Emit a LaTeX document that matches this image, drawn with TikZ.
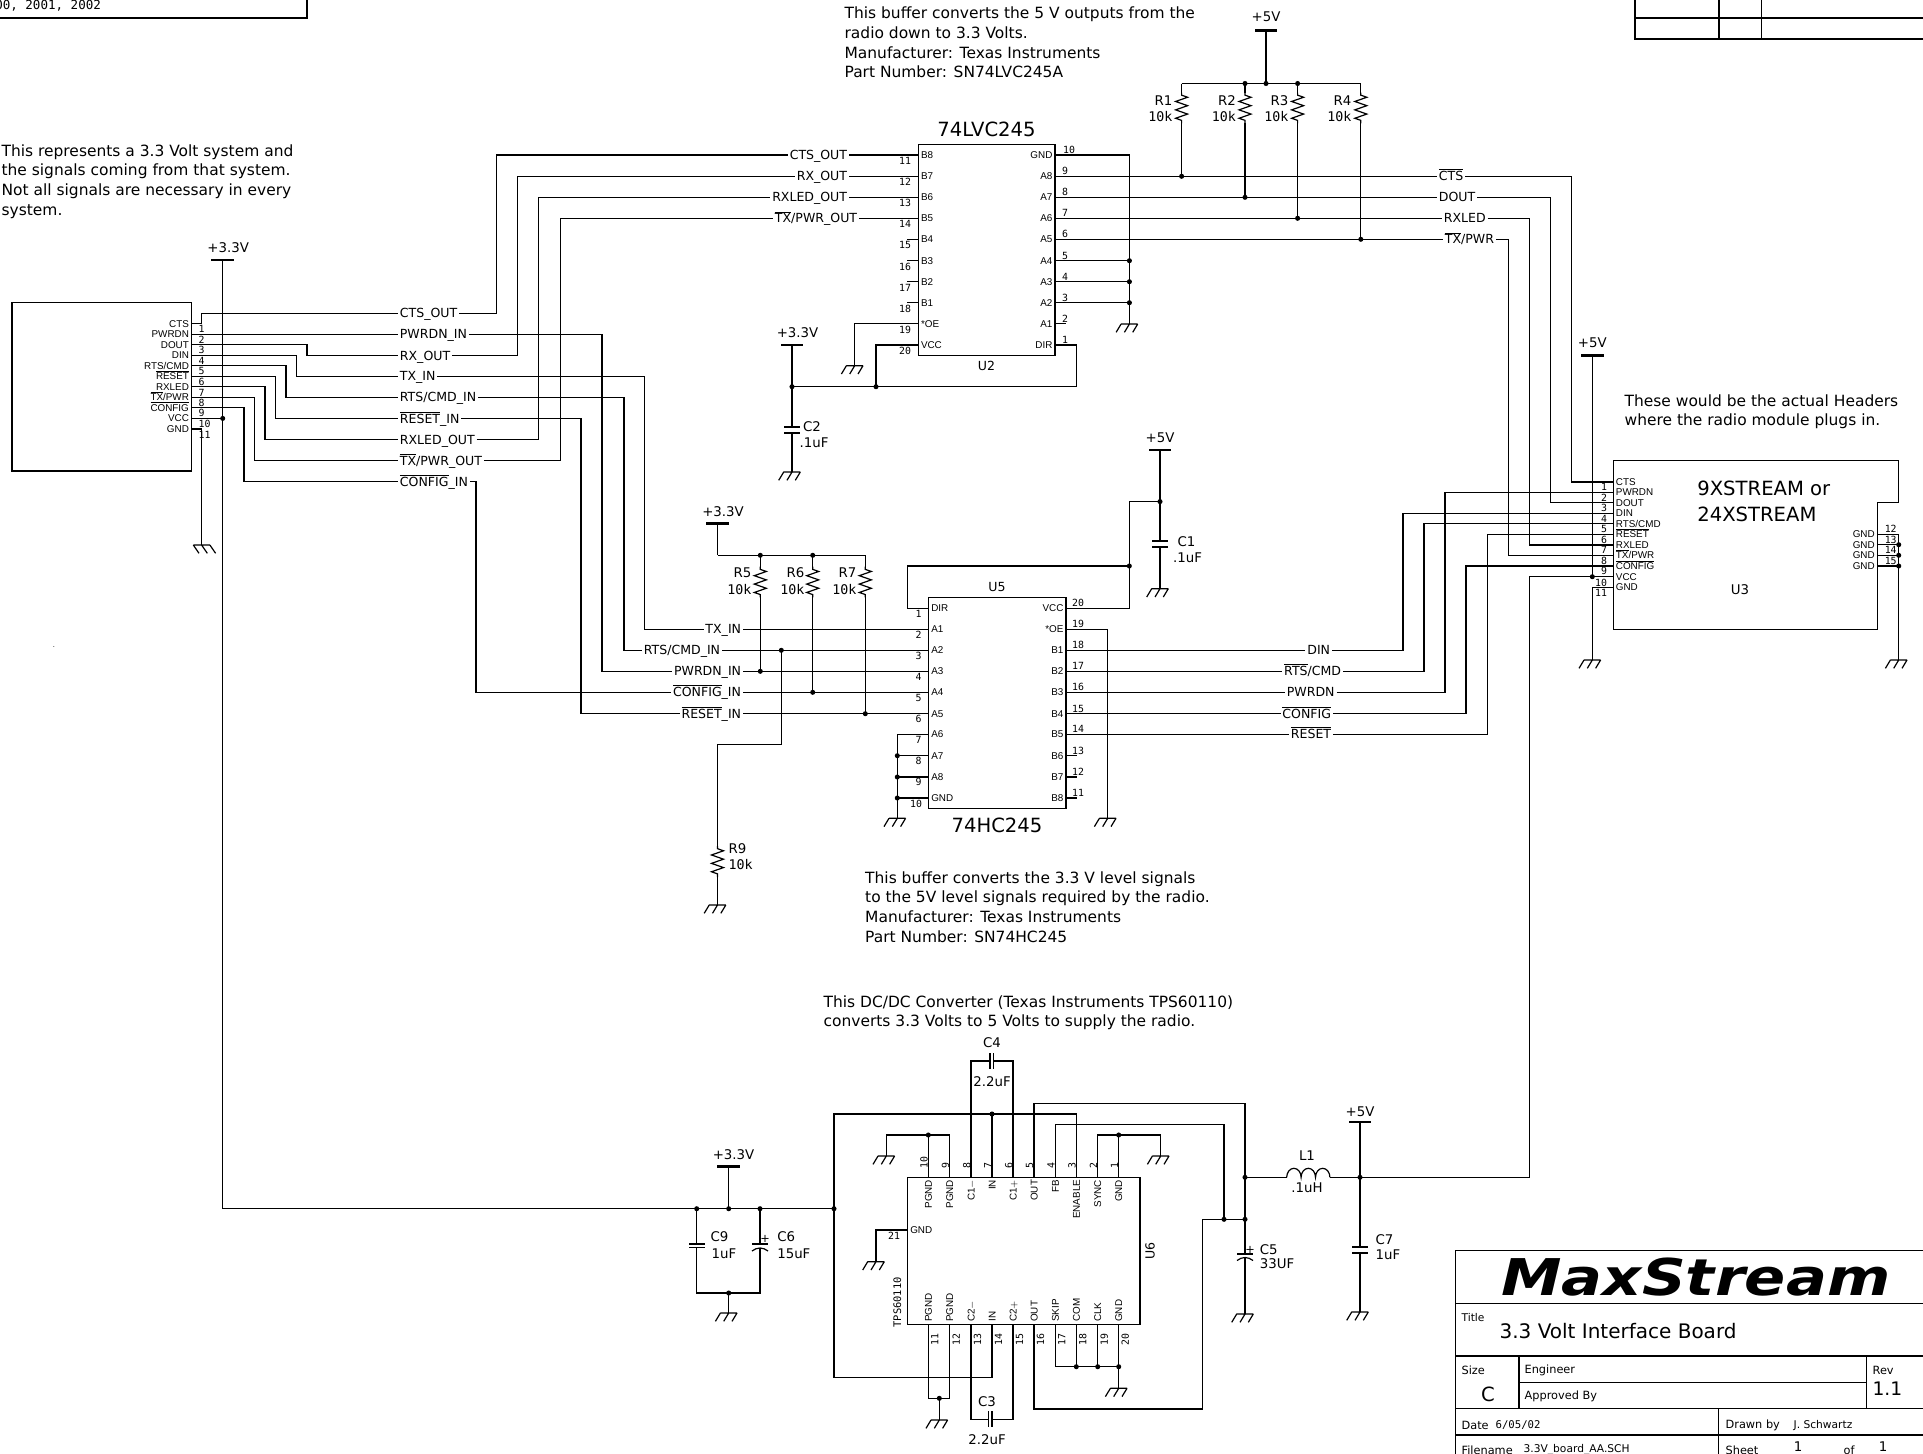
\documentclass[tikz,border=0pt]{standalone}
\usepackage{fontspec}
\setmainfont{DejaVu Sans}
\setmonofont{DejaVu Sans Mono}
\newfontfamily\pinfam{Liberation Sans}
\usetikzlibrary{decorations.pathmorphing}
\newcommand{\notef}{\fontsize{11.6pt}{14.7pt}\selectfont}
\newcommand{\sigf}{\fontsize{9.4pt}{11pt}\selectfont}
\newcommand{\pinf}{\pinfam\fontsize{7.4pt}{8pt}\selectfont}
\newcommand{\numf}{\ttfamily\fontsize{7.4pt}{8pt}\selectfont}
\newcommand{\valf}{\fontsize{10pt}{12pt}\selectfont}
\newcommand{\bigf}{\fontsize{14.7pt}{17pt}\selectfont}
\newcommand{\smf}{\fontsize{8.5pt}{10pt}\selectfont}
\newcommand{\ovl}[1]{$\overline{\mbox{#1}}$}
\tikzstyle{none}=[]
\tikzstyle{dot}=[circle,fill=black,inner sep=0pt,minimum size=3.8pt]
\tikzstyle{bar}=[fill=black,inner sep=0pt,minimum width=17pt,minimum height=2pt]
\tikzstyle{plate}=[fill=black,inner sep=0pt,minimum width=12pt,minimum height=0.9pt]
\tikzstyle{vplate}=[fill=black,inner sep=0pt,minimum width=0.9pt,minimum height=12pt]
\tikzstyle{res}=[decorate,decoration={zigzag,segment length=6.3pt,amplitude=4.5pt,pre length=2pt,post length=2pt}]
\tikzstyle{sig}=[font=\sigf,inner xsep=1pt,inner ysep=0pt,text height=6.9pt,text depth=0pt]
\tikzstyle{sigw}=[style=sig,anchor=west]
\tikzstyle{sige}=[style=sig,anchor=east]
\tikzstyle{pinl}=[font=\pinf,inner xsep=1.5pt,inner ysep=0pt,text height=5.3pt,text depth=0pt,anchor=west]
\tikzstyle{pinr}=[font=\pinf,inner xsep=1.5pt,inner ysep=0pt,text height=5.3pt,text depth=0pt,anchor=east]
\tikzstyle{pint}=[style=pinr,rotate=90]
\tikzstyle{pinb}=[style=pinl,rotate=90]
\tikzstyle{num}=[font=\numf,inner sep=0pt]
\tikzstyle{numt}=[style=num,rotate=90,anchor=west]
\tikzstyle{numb}=[style=num,rotate=90,anchor=east]
\tikzstyle{val}=[font=\valf,inner sep=0pt]
\tikzstyle{mval}=[font=\ttfamily\valf,inner sep=0pt]
\tikzstyle{big}=[font=\bigf,inner sep=0pt]
\tikzstyle{note}=[font=\notef,anchor=north west,align=left,inner sep=0pt]
\tikzstyle{tb}=[font=\smf,anchor=west,inner sep=0pt]
\tikzset{
  gnda/.pic={\draw (-8.3,0) -- (8.3,0) (-8.3,0) -- ++(5.7,8.3) (0,0) -- ++(5.7,8.3) (8.3,0) -- ++(5.7,8.3);},
  gndb/.pic={\draw (-8.3,0) -- (8.3,0) (-8.3,0) -- ++(-5,8.3) (0,0) -- ++(-5,8.3) (8.3,0) -- ++(-5,8.3);},
  polar/.pic={\draw (-8,3.5) .. controls (-3,-0.5) and (3,-0.5) .. (8,3.5);}
}
\begin{document}
\begin{tikzpicture}[x=0.75pt,y=-0.75pt,line width=0.9pt]
  \useasboundingbox (0,0) rectangle (1923,1453);
  \clip (0,0) rectangle (1923,1453);

  % sheet corners
  \draw (0,18) -- (307,18) -- (307,-5);
  \node [font=\ttfamily\fontsize{9.4pt}{11pt}\selectfont,anchor=east,inner sep=0pt] (years) at (101.5,6) {00, 2001, 2002};
  \draw (1635,-5) -- (1635,39) -- (1928,39);
  \draw (1635,18) -- (1928,18);
  \draw (1719,-5) -- (1719,39);
  \draw (1761.3,-5) -- (1761.3,39);
  \node [font=\tiny,inner sep=0pt] (speck) at (54,647) {.};

  % notes
  \node [style=note] (note1) at (1,144) {This represents a 3.3 Volt system and\\the signals coming from that system.\\Not all signals are necessary in every\\system.};
  \node [style=note] (note2) at (844,6.5) {This buffer converts the 5 V outputs from the\\radio down to 3.3 Volts.\\Manufacturer: Texas Instruments\\Part Number: SN74LVC245A};
  \node [style=note] (note3) at (1624,394) {These would be the actual Headers\\where the radio module plugs in.};
  \node [style=note] (note4) at (864.6,871) {This buffer converts the 3.3 V level signals\\to the 5V level signals required by the radio.\\Manufacturer: Texas Instruments\\Part Number: SN74HC245};
  \node [style=note] (note5) at (823,995) {This DC/DC Converter (Texas Instruments TPS60110)\\converts 3.3 Volts to 5 Volts to supply the radio.};

  % host connector
  \draw (12,302.5) rectangle (191.5,471);
  \node [style=pinr] (a1) at (191.5,323.7) {CTS};
  \node [style=pinr] (a2) at (191.5,334.2) {PWRDN};
  \node [style=pinr] (a3) at (191.5,344.7) {DOUT};
  \node [style=pinr] (a4) at (191.5,355.2) {DIN};
  \node [style=pinr] (a5) at (191.5,365.7) {RTS/CMD};
  \node [style=pinr] (a6) at (191.5,376.3) {\ovl{RESET}};
  \node [style=pinr] (a7) at (191.5,386.8) {RXLED};
  \node [style=pinr] (a8) at (191.5,397.3) {\ovl{TX}/PWR};
  \node [style=pinr] (a9) at (191.5,407.8) {\ovl{CONFIG}};
  \node [style=pinr] (a10) at (191.5,418.4) {VCC};
  \node [style=pinr] (a11) at (191.5,428.9) {GND};
  \node [style=num] (an1) at (201.5,329.3) {1};
  \node [style=num] (an2) at (201.5,339.8) {2};
  \node [style=num] (an3) at (201.5,350.3) {3};
  \node [style=num] (an4) at (201.5,360.8) {4};
  \node [style=num] (an5) at (201.5,371.3) {5};
  \node [style=num] (an6) at (201.5,381.9) {6};
  \node [style=num] (an7) at (201.5,392.4) {7};
  \node [style=num] (an8) at (201.5,402.9) {8};
  \node [style=num] (an9) at (201.5,413.4) {9};
  \node [style=num] (an10) at (204.5,424) {10};
  \node [style=num] (an11) at (204.5,434.5) {11};
  \node [style=sigw] (lCTS) at (398,313.3) {CTS\_OUT};
  \node [style=sigw] (lPWR) at (398,334.2) {PWRDN\_IN};
  \node [style=sigw] (lRX) at (398,355.7) {RX\_OUT};
  \node [style=sigw] (lTX) at (398,376.3) {TX\_IN};
  \node [style=sigw] (lRTS) at (398,397.3) {RTS/CMD\_IN};
  \node [style=sigw] (lRES) at (398,418.7) {\ovl{RESET}\_IN};
  \node [style=sigw] (lLED) at (398,439.7) {RXLED\_OUT};
  \node [style=sigw] (lPW) at (398,460.7) {\ovl{TX}/PWR\_OUT};
  \node [style=sigw] (lCFG) at (398,481.7) {\ovl{CONFIG}\_IN};
  \node [style=dot] (dV0) at (222.7,418.4) {};
  \node [style=bar] (v0) at (222.7,260) {};
  \node [style=val] (v0t) at (228.2,248) {+3.3V};
  \node [style=none] (g0) at (201.6,545) {};
  \pic at (g0.center) {gnda};
  \draw (a1.east) -- (201.6,323.7) -- (201.6,313.3) -- (lCTS.west);
  \draw (a2.east) to (lPWR.west);
  \draw (a3.east) -| (307,355.7) -- (lRX.west);
  \draw (a4.east) -| (296.7,376.3) -- (lTX.west);
  \draw (a5.east) -| (286,397.3) -- (lRTS.west);
  \draw (a6.east) -| (275.7,418.7) -- (lRES.west);
  \draw (a7.east) -| (265,439.7) -- (lLED.west);
  \draw (a8.east) -| (254.7,460.7) -- (lPW.west);
  \draw (a9.east) -| (244,481.7) -- (lCFG.west);
  \draw (a10.east) to (dV0.center);
  \draw (a11.east) -| (g0.center);

  % U2
  \draw (918.4,144.3) rectangle (1055,355.3);
  \node [style=big] (u2n) at (986.5,129) {74LVC245};
  \node [style=val,font=\sigf] (u2t) at (986.5,366) {U2};
  \node [style=pinl] (u2p11) at (918.4,155) {B8};
  \node [style=pinl] (u2p12) at (918.4,176.3) {B7};
  \node [style=pinl] (u2p13) at (918.4,197.3) {B6};
  \node [style=pinl] (u2p14) at (918.4,218.3) {B5};
  \node [style=pinl] (u2p15) at (918.4,239.3) {B4};
  \node [style=pinl] (u2p16) at (918.4,260.7) {B3};
  \node [style=pinl] (u2p17) at (918.4,281.7) {B2};
  \node [style=pinl] (u2p18) at (918.4,302.7) {B1};
  \node [style=pinl] (u2p19) at (918.4,323.7) {*OE};
  \node [style=pinl] (u2p20) at (918.4,345) {VCC};
  \node [style=pinr] (u2p10) at (1055,155) {GND};
  \node [style=pinr] (u2p9) at (1055,176.3) {A8};
  \node [style=pinr] (u2p8) at (1055,197.3) {A7};
  \node [style=pinr] (u2p7) at (1055,218.3) {A6};
  \node [style=pinr] (u2p6) at (1055,239.3) {A5};
  \node [style=pinr] (u2p5) at (1055,260.7) {A4};
  \node [style=pinr] (u2p4) at (1055,281.7) {A3};
  \node [style=pinr] (u2p3) at (1055,302.7) {A2};
  \node [style=pinr] (u2p2) at (1055,323.7) {A1};
  \node [style=pinr] (u2p1) at (1055,345) {DIR};
  \node [style=num] (u2m11) at (905,161) {11};
  \node [style=num] (u2m12) at (905,182.3) {12};
  \node [style=num] (u2m13) at (905,203.3) {13};
  \node [style=num] (u2m14) at (905,224.3) {14};
  \node [style=num] (u2m15) at (905,245.3) {15};
  \node [style=num] (u2m16) at (905,266.7) {16};
  \node [style=num] (u2m17) at (905,287.7) {17};
  \node [style=num] (u2m18) at (905,308.7) {18};
  \node [style=num] (u2m19) at (905,329.7) {19};
  \node [style=num] (u2m20) at (905,351) {20};
  \node [style=num] (u2m10) at (1069,150) {10};
  \node [style=num] (u2m9) at (1065,171.3) {9};
  \node [style=num] (u2m8) at (1065,192.3) {8};
  \node [style=num] (u2m7) at (1065,213.3) {7};
  \node [style=num] (u2m6) at (1065,234.3) {6};
  \node [style=num] (u2m5) at (1065,255.7) {5};
  \node [style=num] (u2m4) at (1065,276.7) {4};
  \node [style=num] (u2m3) at (1065,297.7) {3};
  \node [style=num] (u2m2) at (1065,318.7) {2};
  \node [style=num] (u2m1) at (1065,340) {1};
  \node [style=sige] (aCTS) at (849,155) {CTS\_OUT};
  \node [style=sige] (aRX) at (849,176.3) {RX\_OUT};
  \node [style=sige] (aLED) at (849,197.3) {RXLED\_OUT};
  \node [style=sige] (aPW) at (859,218.3) {\ovl{TX}/PWR\_OUT};
  \node [style=sigw] (cCTS) at (1437,176.3) {\ovl{CTS}};
  \node [style=sigw] (cDOUT) at (1437,197.3) {DOUT};
  \node [style=sigw] (cLED) at (1442,218.3) {RXLED};
  \node [style=sigw] (cPW) at (1443,239.3) {\ovl{TX}/PWR};
  \node [style=none] (s15) at (907,239.3) {};
  \node [style=none] (s16) at (907,260.7) {};
  \node [style=none] (s17) at (907,281.7) {};
  \node [style=none] (s18) at (907,302.7) {};
  \node [style=none] (s2) at (1066,323.7) {};
  \node [style=none] (g1) at (854.7,365.7) {};
  \node [style=none] (g2) at (1129.4,324) {};
  \pic at (g1.center) {gndb};
  \pic at (g2.center) {gndb};
  \node [style=dot] (dA5) at (1129.4,260.7) {};
  \node [style=dot] (dA4) at (1129.4,281.7) {};
  \node [style=dot] (dA3) at (1129.4,302.7) {};
  \node [style=dot] (dR1) at (1181.6,176.3) {};
  \node [style=dot] (dR2) at (1245,197.3) {};
  \node [style=dot] (dR3) at (1297.6,218.3) {};
  \node [style=dot] (dR4) at (1360.8,239.3) {};
  \node [style=dot] (dV2) at (792,386.7) {};
  \node [style=dot] (dV3) at (876,386.7) {};
  \node [style=bar] (v1) at (792,345) {};
  \node [style=val] (v1t) at (797.5,333) {+3.3V};
  \node [style=plate] (c2a) at (792,427) {};
  \node [style=plate] (c2b) at (792,433) {};
  \node [style=val] (c2t) at (812,427) {C2};
  \node [style=val] (c2v) at (814,443) {.1uF};
  \node [style=none] (g3) at (792,472) {};
  \pic at (g3.center) {gndb};
  \draw (lCTS.east) -| (496.7,155) -- (aCTS.west);
  \draw (lRX.east) -| (517.5,176.3) -- (aRX.west);
  \draw (lLED.east) -| (538.4,197.3) -- (aLED.west);
  \draw (lPW.east) -| (560.5,218.3) -- (aPW.west);
  \draw (aCTS.east) to (u2p11.west);
  \draw (aRX.east) to (u2p12.west);
  \draw (aLED.east) to (u2p13.west);
  \draw (aPW.east) to (u2p14.west);
  \draw (u2p15.west) to (s15.center);
  \draw (u2p16.west) to (s16.center);
  \draw (u2p17.west) to (s17.center);
  \draw (u2p18.west) to (s18.center);
  \draw (u2p2.east) to (s2.center);
  \draw (u2p19.west) -| (g1.center);
  \draw (u2p20.west) -| (dV3.center);
  \draw (u2p1.east) -- (1076.3,345) -- (1076.3,386.7) -- (dV3.center);
  \draw (dV3.center) to (dV2.center);
  \draw (v1.center) to (dV2.center);
  \draw (dV2.center) to (c2a.center);
  \draw (c2b.center) to (g3.center);
  \draw (u2p10.east) -| (dA5.center);
  \draw (dA5.center) to (dA4.center);
  \draw (dA4.center) to (dA3.center);
  \draw (dA3.center) to (g2.center);
  \draw (u2p5.east) to (dA5.center);
  \draw (u2p4.east) to (dA4.center);
  \draw (u2p3.east) to (dA3.center);
  \draw (u2p9.east) to (cCTS.west);
  \draw (u2p8.east) to (cDOUT.west);
  \draw (u2p7.east) to (cLED.west);
  \draw (u2p6.east) to (cPW.west);

  % pull-ups on the radio side
  \node [style=bar] (v2) at (1266,30.7) {};
  \node [style=val] (v2t) at (1266,17) {+5V};
  \node [style=dot] (dT2) at (1245,83.5) {};
  \node [style=dot] (dT0) at (1266,83.5) {};
  \node [style=dot] (dT3) at (1297.6,83.5) {};
  \node [style=none] (dT1) at (1181.6,83.5) {};
  \node [style=none] (dT4) at (1360.8,83.5) {};
  \node [style=none] (r1a) at (1181.6,92.5) {};
  \node [style=none] (r1b) at (1181.6,123.3) {};
  \node [style=none] (r2a) at (1245,92.5) {};
  \node [style=none] (r2b) at (1245,123.3) {};
  \node [style=none] (r3a) at (1297.6,92.5) {};
  \node [style=none] (r3b) at (1297.6,123.3) {};
  \node [style=none] (r4a) at (1360.8,92.5) {};
  \node [style=none] (r4b) at (1360.8,123.3) {};
  \node [style=val,anchor=east] (r1t) at (1173,100.5) {R1};
  \node [style=mval,anchor=east] (r1v) at (1173,116.5) {10k};
  \node [style=val,anchor=east] (r2t) at (1236.5,100.5) {R2};
  \node [style=mval,anchor=east] (r2v) at (1236.5,116.5) {10k};
  \node [style=val,anchor=east] (r3t) at (1289,100.5) {R3};
  \node [style=mval,anchor=east] (r3v) at (1289,116.5) {10k};
  \node [style=val,anchor=east] (r4t) at (1352,100.5) {R4};
  \node [style=mval,anchor=east] (r4v) at (1352,116.5) {10k};
  \draw (v2.center) to (dT0.center);
  \draw (dT1.center) to (dT4.center);
  \draw (dT1.center) to (r1a.center);
  \draw (dT2.center) to (r2a.center);
  \draw (dT3.center) to (r3a.center);
  \draw (dT4.center) to (r4a.center);
  \draw [style=res] (r1a.center) to (r1b.center);
  \draw [style=res] (r2a.center) to (r2b.center);
  \draw [style=res] (r3a.center) to (r3b.center);
  \draw [style=res] (r4a.center) to (r4b.center);
  \draw (r1b.center) to (dR1.center);
  \draw (r2b.center) to (dR2.center);
  \draw (r3b.center) to (dR3.center);
  \draw (r4b.center) to (dR4.center);

  % U5
  \draw (928.7,597.7) rectangle (1066,808.3);
  \node [style=big] (u5n) at (997,825) {74HC245};
  \node [style=val,font=\sigf] (u5t) at (997,587) {U5};
  \node [style=pinl] (u5p1) at (928.7,608.3) {DIR};
  \node [style=pinl] (u5p2) at (928.7,629.3) {A1};
  \node [style=pinl] (u5p3) at (928.7,650.3) {A2};
  \node [style=pinl] (u5p4) at (928.7,671.3) {A3};
  \node [style=pinl] (u5p5) at (928.7,692.3) {A4};
  \node [style=pinl] (u5p6) at (928.7,713.7) {A5};
  \node [style=pinl] (u5p7) at (928.7,734.3) {A6};
  \node [style=pinl] (u5p8) at (928.7,755.7) {A7};
  \node [style=pinl] (u5p9) at (928.7,777) {A8};
  \node [style=pinl] (u5p10) at (928.7,798) {GND};
  \node [style=pinr] (u5p20) at (1066,608.3) {VCC};
  \node [style=pinr] (u5p19) at (1066,629.3) {*OE};
  \node [style=pinr] (u5p18) at (1066,650.3) {B1};
  \node [style=pinr] (u5p17) at (1066,671.3) {B2};
  \node [style=pinr] (u5p16) at (1066,692.3) {B3};
  \node [style=pinr] (u5p15) at (1066,713.7) {B4};
  \node [style=pinr] (u5p14) at (1066,734.3) {B5};
  \node [style=pinr] (u5p13) at (1066,755.7) {B6};
  \node [style=pinr] (u5p12) at (1066,777) {B7};
  \node [style=pinr] (u5p11) at (1066,798) {B8};
  \node [style=num] (u5m1) at (918.7,613.5) {1};
  \node [style=num] (u5m2) at (918.7,634.5) {2};
  \node [style=num] (u5m3) at (918.7,655.5) {3};
  \node [style=num] (u5m4) at (918.7,676.5) {4};
  \node [style=num] (u5m5) at (918.7,697.5) {5};
  \node [style=num] (u5m6) at (918.7,719) {6};
  \node [style=num] (u5m7) at (918.7,739.5) {7};
  \node [style=num] (u5m8) at (918.7,761) {8};
  \node [style=num] (u5m9) at (918.7,782) {9};
  \node [style=num] (u5m10) at (916,803.5) {10};
  \node [style=num] (u5m20) at (1078,603.3) {20};
  \node [style=num] (u5m19) at (1078,624.3) {19};
  \node [style=num] (u5m18) at (1078,645.3) {18};
  \node [style=num] (u5m17) at (1078,666.3) {17};
  \node [style=num] (u5m16) at (1078,687.3) {16};
  \node [style=num] (u5m15) at (1078,708.7) {15};
  \node [style=num] (u5m14) at (1078,729.3) {14};
  \node [style=num] (u5m13) at (1078,750.7) {13};
  \node [style=num] (u5m12) at (1078,772) {12};
  \node [style=num] (u5m11) at (1078,793) {11};
  \node [style=sige] (bTX) at (743,629.3) {TX\_IN};
  \node [style=sige] (bRTS) at (722,650.3) {RTS/CMD\_IN};
  \node [style=sige] (bPWR) at (743,671.3) {PWRDN\_IN};
  \node [style=sige] (bCFG) at (743,692.3) {\ovl{CONFIG}\_IN};
  \node [style=sige] (bRES) at (743,713.7) {\ovl{RESET}\_IN};
  \node [style=sige] (eDIN) at (1332,650.3) {DIN};
  \node [style=sige] (eRTS) at (1343,671.3) {\ovl{RTS}/CMD};
  \node [style=sige] (ePWR) at (1336.5,692.3) {PWRDN};
  \node [style=sige] (eCFG) at (1333,713.7) {\ovl{CONFIG}};
  \node [style=sige] (eRES) at (1333,734.3) {\ovl{RESET}};
  \node [style=none] (s13) at (1076.7,755.7) {};
  \node [style=none] (s12) at (1076.7,777) {};
  \node [style=none] (s11) at (1076.7,798) {};
  \node [style=bar] (v3) at (717.5,523.7) {};
  \node [style=val] (v3t) at (723,512) {+3.3V};
  \node [style=none] (rr0) at (717.5,555.3) {};
  \node [style=dot] (dT5) at (760.3,555.3) {};
  \node [style=dot] (dT6) at (812.7,555.3) {};
  \node [style=none] (dT7) at (865.3,555.3) {};
  \node [style=none] (r5a) at (760.3,566.7) {};
  \node [style=none] (r5b) at (760.3,597.3) {};
  \node [style=none] (r6a) at (812.7,566.7) {};
  \node [style=none] (r6b) at (812.7,597.3) {};
  \node [style=none] (r7a) at (865.3,566.7) {};
  \node [style=none] (r7b) at (865.3,597.3) {};
  \node [style=val,anchor=east] (r5t) at (752,573) {R5};
  \node [style=mval,anchor=east] (r5v) at (752,590) {10k};
  \node [style=val,anchor=east] (r6t) at (805,573) {R6};
  \node [style=mval,anchor=east] (r6v) at (805,590) {10k};
  \node [style=val,anchor=east] (r7t) at (857,573) {R7};
  \node [style=mval,anchor=east] (r7v) at (857,590) {10k};
  \node [style=dot] (dR5) at (760.3,671.3) {};
  \node [style=dot] (dR6) at (812.7,692.3) {};
  \node [style=dot] (dR7) at (865.3,713.7) {};
  \node [style=dot] (dR9) at (781.3,650.3) {};
  \node [style=none] (r9a) at (717.5,846) {};
  \node [style=none] (r9b) at (717.5,877) {};
  \node [style=val,anchor=west] (r9t) at (728,848.7) {R9};
  \node [style=mval,anchor=west] (r9v) at (728,864.6) {10k};
  \node [style=none] (g4) at (717.5,905) {};
  \pic at (g4.center) {gndb};
  \node [style=none] (g5) at (897.3,818.3) {};
  \node [style=none] (g6) at (1107.7,818.3) {};
  \pic at (g5.center) {gndb};
  \pic at (g6.center) {gndb};
  \node [style=dot] (dB1) at (897.3,755.7) {};
  \node [style=dot] (dB2) at (897.3,777) {};
  \node [style=dot] (dB3) at (897.3,798) {};
  \node [style=bar] (v4) at (1160,450) {};
  \node [style=val] (v4t) at (1160,438) {+5V};
  \node [style=dot] (dC1) at (1160,501.6) {};
  \node [style=dot] (dU5) at (1129.3,566) {};
  \node [style=plate] (c1a) at (1160,541) {};
  \node [style=plate] (c1b) at (1160,547) {};
  \node [style=val] (c1t) at (1186.5,542) {C1};
  \node [style=val] (c1v) at (1187.5,558) {.1uF};
  \node [style=none] (g7) at (1160,588.7) {};
  \pic at (g7.center) {gndb};
  \draw (lPWR.east) -| (602,671.3) -- (bPWR.west);
  \draw (lTX.east) -| (644.3,629.3) -- (bTX.west);
  \draw (lRTS.east) -| (624,650.3) -- (bRTS.west);
  \draw (lRES.east) -| (581,713.7) -- (bRES.west);
  \draw (lCFG.east) -| (476,692.3) -- (bCFG.west);
  \draw (bTX.east) to (u5p2.west);
  \draw (bRTS.east) to (u5p3.west);
  \draw (bPWR.east) to (u5p4.west);
  \draw (bCFG.east) to (u5p5.west);
  \draw (bRES.east) to (u5p6.west);
  \draw (v3.center) to (rr0.center);
  \draw (rr0.center) to (dT7.center);
  \draw (dT5.center) to (r5a.center);
  \draw (dT6.center) to (r6a.center);
  \draw (dT7.center) to (r7a.center);
  \draw [style=res] (r5a.center) to (r5b.center);
  \draw [style=res] (r6a.center) to (r6b.center);
  \draw [style=res] (r7a.center) to (r7b.center);
  \draw (r5b.center) to (dR5.center);
  \draw (r6b.center) to (dR6.center);
  \draw (r7b.center) to (dR7.center);
  \draw (dR9.center) -- (781.3,744.3) -- (717.5,744.3) -- (r9a.center);
  \draw [style=res] (r9a.center) to (r9b.center);
  \draw (r9b.center) to (g4.center);
  \draw (u5p7.west) -| (g5.center);
  \draw (u5p8.west) to (dB1.center);
  \draw (u5p9.west) to (dB2.center);
  \draw (u5p10.west) to (dB3.center);
  \draw (u5p19.east) -| (g6.center);
  \draw (u5p13.east) to (s13.center);
  \draw (u5p12.east) to (s12.center);
  \draw (u5p11.east) to (s11.center);
  \draw (u5p18.east) to (eDIN.west);
  \draw (u5p17.east) to (eRTS.west);
  \draw (u5p16.east) to (ePWR.west);
  \draw (u5p15.east) to (eCFG.west);
  \draw (u5p14.east) to (eRES.west);
  \draw (v4.center) to (dC1.center);
  \draw (dC1.center) to (c1a.center);
  \draw (c1b.center) to (g7.center);
  \draw (dC1.center) -- (1129.3,501.6) -- (dU5.center);
  \draw (u5p1.west) -- (907.7,608.3) -- (907.7,566) -- (dU5.center);
  \draw (u5p20.east) -| (dU5.center);

  % U3
  \draw (1613.3,460.7) -- (1898.7,460.7) -- (1898.7,502.3) -- (1877.3,502.3) -- (1877.3,629.3) -- (1613.3,629.3) -- cycle;
  \node [style=big,anchor=west] (u3a) at (1696.7,488) {9XSTREAM or};
  \node [style=big,anchor=west] (u3b) at (1696.7,514) {24XSTREAM};
  \node [style=val] (u3t) at (1740,590) {U3};
  \node [style=pinl] (u3p0) at (1613.3,482) {CTS};
  \node [style=pinl] (u3p1) at (1613.3,492.3) {PWRDN};
  \node [style=pinl] (u3p2) at (1613.3,502.7) {DOUT};
  \node [style=pinl] (u3p3) at (1613.3,513.3) {DIN};
  \node [style=pinl] (u3p4) at (1613.3,523.7) {RTS/CMD};
  \node [style=pinl] (u3p5) at (1613.3,534.3) {\ovl{RESET}};
  \node [style=pinl] (u3p6) at (1613.3,545) {RXLED};
  \node [style=pinl] (u3p7) at (1613.3,555.3) {\ovl{TX}/PWR};
  \node [style=pinl] (u3p8) at (1613.3,566) {\ovl{CONFIG}};
  \node [style=pinl] (u3p9) at (1613.3,576.7) {VCC};
  \node [style=pinl] (u3p10) at (1613.3,587.3) {GND};
  \node [style=pinr] (u3p12) at (1877.3,534.3) {GND};
  \node [style=pinr] (u3p13) at (1877.3,544.7) {GND};
  \node [style=pinr] (u3p14) at (1877.3,555.3) {GND};
  \node [style=pinr] (u3p15) at (1877.3,566) {GND};
  \node [style=num] (u3m1) at (1604,487.3) {1};
  \node [style=num] (u3m2) at (1604,497.6) {2};
  \node [style=num] (u3m3) at (1604,508) {3};
  \node [style=num] (u3m4) at (1604,518.6) {4};
  \node [style=num] (u3m5) at (1604,529) {5};
  \node [style=num] (u3m6) at (1604,539.6) {6};
  \node [style=num] (u3m7) at (1604,550.3) {7};
  \node [style=num] (u3m8) at (1604,560.6) {8};
  \node [style=num] (u3m9) at (1604,571.3) {9};
  \node [style=num] (u3m10) at (1601,582.7) {10};
  \node [style=num] (u3m11) at (1601,593) {11};
  \node [style=num] (u3m12) at (1890.7,529) {12};
  \node [style=num] (u3m13) at (1890.7,539.7) {13};
  \node [style=num] (u3m14) at (1890.7,550.3) {14};
  \node [style=num] (u3m15) at (1890.7,561) {15};
  \node [style=bar] (v5) at (1592.3,355.7) {};
  \node [style=val] (v5t) at (1592.3,343) {+5V};
  \node [style=dot] (dU3) at (1592.3,576.7) {};
  \node [style=dot] (dG1) at (1898.7,544.7) {};
  \node [style=dot] (dG2) at (1898.7,555.3) {};
  \node [style=dot] (dG3) at (1898.7,566) {};
  \node [style=none] (g8) at (1592.3,660) {};
  \node [style=none] (g9) at (1898.7,660) {};
  \pic at (g8.center) {gndb};
  \pic at (g9.center) {gndb};
  \draw (cCTS.east) -| (1571.7,482) -- (u3p0.west);
  \draw (cDOUT.east) -| (1550.7,502.7) -- (u3p2.west);
  \draw (cLED.east) -| (1529.3,545) -- (u3p6.west);
  \draw (cPW.east) -| (1508.3,555.3) -- (u3p7.west);
  \draw (eDIN.east) -| (1403,513.3) -- (u3p3.west);
  \draw (eRTS.east) -| (1424,523.7) -- (u3p4.west);
  \draw (ePWR.east) -| (1445,492.3) -- (u3p1.west);
  \draw (eCFG.east) -| (1466,566) -- (u3p8.west);
  \draw (eRES.east) -| (1487.3,534.3) -- (u3p5.west);
  \draw (v5.center) to (dU3.center);
  \draw (dU3.center) to (u3p9.west);
  \draw (u3p10.west) -| (g8.center);
  \draw (u3p12.east) -| (g9.center);
  \draw (u3p13.east) to (dG1.center);
  \draw (u3p14.east) to (dG2.center);
  \draw (u3p15.east) to (dG3.center);

  % U6
  \draw (907.7,1177.3) rectangle (1140,1324.3);
  \node [style=num,rotate=90,font=\sigf] (u6t) at (1150,1251) {U6};
  \node [style=num,rotate=90,anchor=west,font=\ttfamily\fontsize{7.8pt}{9pt}\selectfont] (u6n) at (897.3,1328) {TPS60110};
  \node [style=pint] (u6p10) at (928.3,1177.3) {PGND};
  \node [style=pint] (u6p9) at (949.7,1177.3) {PGND};
  \node [style=pint] (u6p8) at (971,1177.3) {C1$-$};
  \node [style=pint] (u6p7) at (992,1177.3) {IN};
  \node [style=pint] (u6p6) at (1013,1177.3) {C1$+$};
  \node [style=pint] (u6p5) at (1034,1177.3) {OUT};
  \node [style=pint] (u6p4) at (1055.3,1177.3) {FB};
  \node [style=pint] (u6p3) at (1076.3,1177.3) {ENABLE};
  \node [style=pint] (u6p2) at (1097.7,1177.3) {SYNC};
  \node [style=pint] (u6p1) at (1118.7,1177.3) {GND};
  \node [style=pinb] (u6p11) at (928.3,1324.3) {PGND};
  \node [style=pinb] (u6p12) at (949.7,1324.3) {PGND};
  \node [style=pinb] (u6p13) at (971,1324.3) {C2$-$};
  \node [style=pinb] (u6p14) at (992,1324.3) {IN};
  \node [style=pinb] (u6p15) at (1013,1324.3) {C2$+$};
  \node [style=pinb] (u6p16) at (1034,1324.3) {OUT};
  \node [style=pinb] (u6p17) at (1055.3,1324.3) {SKIP};
  \node [style=pinb] (u6p18) at (1076.3,1324.3) {COM};
  \node [style=pinb] (u6p19) at (1097.7,1324.3) {CLK};
  \node [style=pinb] (u6p20) at (1118.7,1324.3) {GND};
  \node [style=pinl] (u6p21) at (907.7,1230) {GND};
  \node [style=num] (u6m21) at (894,1235.5) {21};
  \node [style=numt] (u6m10) at (924,1169.5) {10};
  \node [style=numt] (u6m9) at (945.4,1169.5) {9};
  \node [style=numt] (u6m8) at (966.7,1169.5) {8};
  \node [style=numt] (u6m7) at (987.7,1169.5) {7};
  \node [style=numt] (u6m6) at (1008.7,1169.5) {6};
  \node [style=numt] (u6m5) at (1029.7,1169.5) {5};
  \node [style=numt] (u6m4) at (1051,1169.5) {4};
  \node [style=numt] (u6m3) at (1072,1169.5) {3};
  \node [style=numt] (u6m2) at (1093.4,1169.5) {2};
  \node [style=numt] (u6m1) at (1114.4,1169.5) {1};
  \node [style=numb] (u6m11) at (934.8,1333) {11};
  \node [style=numb] (u6m12) at (956.2,1333) {12};
  \node [style=numb] (u6m13) at (977.5,1333) {13};
  \node [style=numb] (u6m14) at (998.5,1333) {14};
  \node [style=numb] (u6m15) at (1019.5,1333) {15};
  \node [style=numb] (u6m16) at (1040.5,1333) {16};
  \node [style=numb] (u6m17) at (1061.8,1333) {17};
  \node [style=numb] (u6m18) at (1082.8,1333) {18};
  \node [style=numb] (u6m19) at (1104.2,1333) {19};
  \node [style=numb] (u6m20) at (1125.2,1333) {20};
  \node [style=dot] (dN1) at (928.3,1135) {};
  \node [style=dot] (dN2) at (1118.7,1135) {};
  \node [style=dot] (dIN) at (992,1114) {};
  \node [style=dot] (dVin) at (834,1208.7) {};
  \node [style=dot] (dC9) at (696.7,1208.7) {};
  \node [style=dot] (dV6) at (728.7,1208.7) {};
  \node [style=dot] (dC6) at (760,1208.7) {};
  \node [style=dot] (dOut) at (1245,1177.3) {};
  \node [style=dot] (dFb) at (1245,1219.3) {};
  \node [style=dot] (dFb2) at (1224,1219.3) {};
  \node [style=dot] (dL) at (1360,1177.3) {};
  \node [style=dot] (dS1) at (1076.3,1366.7) {};
  \node [style=dot] (dS2) at (1097.7,1366.7) {};
  \node [style=dot] (dS3) at (1118.7,1366.7) {};
  \node [style=dot] (dP) at (939.3,1398.3) {};
  \node [style=dot] (dC96) at (728.7,1293) {};
  \node [style=none] (g10) at (886.3,1156) {};
  \node [style=none] (g11) at (1160.7,1156) {};
  \node [style=none] (g12) at (876,1261.7) {};
  \node [style=none] (g13) at (939.3,1420) {};
  \node [style=none] (g14) at (1118.7,1388.3) {};
  \node [style=none] (g15) at (1245,1314) {};
  \node [style=none] (g16) at (1360,1312) {};
  \node [style=none] (g17) at (728.7,1313) {};
  \pic at (g10.center) {gndb};
  \pic at (g11.center) {gndb};
  \pic at (g12.center) {gndb};
  \pic at (g13.center) {gndb};
  \pic at (g14.center) {gndb};
  \pic at (g15.center) {gndb};
  \pic at (g16.center) {gndb};
  \pic at (g17.center) {gndb};
  \node [style=vplate] (c4a) at (990,1061) {};
  \node [style=vplate] (c4b) at (993.3,1061) {};
  \node [style=val] (c4t) at (992,1043) {C4};
  \node [style=val] (c4v) at (992,1081.7) {2.2uF};
  \node [style=vplate] (c3a) at (988.7,1419.3) {};
  \node [style=vplate] (c3b) at (992,1419.3) {};
  \node [style=val] (c3t) at (987,1401.7) {C3};
  \node [style=val] (c3v) at (987,1439.3) {2.2uF};
  \node [style=plate] (c5a) at (1245,1254) {};
  \node [style=none] (c5b) at (1245,1257) {};
  \pic at (c5b.center) {polar};
  \node [style=val,anchor=west] (c5t) at (1259.3,1250) {C5};
  \node [style=val,anchor=west] (c5v) at (1259.3,1264) {33UF};
  \node [style=val,font=\smf] (c5p) at (1250,1250) {+};
  \node [style=plate] (c7a) at (1360,1247) {};
  \node [style=plate] (c7b) at (1360,1253) {};
  \node [style=val,anchor=west] (c7t) at (1375,1240) {C7};
  \node [style=val,anchor=west] (c7v) at (1375,1255) {1uF};
  \node [style=plate] (c9a) at (696.7,1244) {};
  \node [style=plate] (c9b) at (696.7,1247.7) {};
  \node [style=val,anchor=west] (c9t) at (710,1237) {C9};
  \node [style=val,anchor=west] (c9v) at (711,1254) {1uF};
  \node [style=plate] (c6a) at (760,1244) {};
  \node [style=none] (c6b) at (760,1247.5) {};
  \pic at (c6b.center) {polar};
  \node [style=val,anchor=west] (c6t) at (776.7,1237) {C6};
  \node [style=val,anchor=west] (c6v) at (776.7,1254) {15uF};
  \node [style=val,font=\smf] (c6p) at (765,1238.7) {+};
  \node [style=bar] (v6) at (728.7,1166.7) {};
  \node [style=val] (v6t) at (733.5,1155) {+3.3V};
  \node [style=bar] (v7) at (1360,1122) {};
  \node [style=val] (v7t) at (1360,1112) {+5V};
  \node [style=none] (l1a) at (1286.7,1177.3) {};
  \node [style=none] (l1b) at (1330,1177.3) {};
  \node [style=val] (l1t) at (1307,1156) {L1};
  \node [style=val] (l1v) at (1307,1188) {.1uH};
  \draw (v0.center) to (dV0.center);
  \draw (dV0.center) |- (dC9.center);
  \draw (dC9.center) to (dVin.center);
  \draw (v6.center) to (dV6.center);
  \draw (dC9.center) to (c9a.center);
  \draw (c9b.center) |- (dC96.center);
  \draw (dC6.center) to (c6a.center);
  \draw (c6b.center) |- (dC96.center);
  \draw (dC96.center) to (g17.center);
  \draw (u6p10.east) to (dN1.center);
  \draw (u6p9.east) |- (dN1.center);
  \draw (dN1.center) -| (g10.center);
  \draw (u6p2.east) |- (dN2.center);
  \draw (u6p1.east) to (dN2.center);
  \draw (dN2.center) -| (g11.center);
  \draw (u6p21.west) -| (g12.center);
  \draw (u6p7.east) to (dIN.center);
  \draw (u6p3.east) |- (dIN.center);
  \draw (dIN.center) -| (dVin.center);
  \draw (dVin.center) -- (834,1377.3) -- (992,1377.3) -- (u6p14.west);
  \draw (u6p8.east) |- (c4a.center);
  \draw (u6p6.east) |- (c4b.center);
  \draw (u6p5.east) -- (1034,1103.3) -- (1245,1103.3) -- (dOut.center);
  \draw (dOut.center) to (dFb.center);
  \draw (u6p4.east) -- (1055.3,1124.3) -- (1224,1124.3) -- (dFb2.center);
  \draw (dFb2.center) to (dFb.center);
  \draw (dFb.center) to (c5a.center);
  \draw (c5b.center) to (g15.center);
  \draw (u6p16.west) -- (1034,1409) -- (1202.7,1409) -- (1202.7,1219.3) -- (dFb2.center);
  \draw (u6p17.west) |- (dS1.center);
  \draw (dS1.center) to (dS3.center);
  \draw (u6p18.west) to (dS1.center);
  \draw (u6p19.west) to (dS2.center);
  \draw (u6p20.west) to (g14.center);
  \draw (u6p11.west) |- (dP.center);
  \draw (u6p12.west) |- (dP.center);
  \draw (dP.center) to (g13.center);
  \draw (u6p13.west) |- (c3a.center);
  \draw (u6p15.west) |- (c3b.center);
  \draw (dOut.center) to (l1a.center);
  \draw (l1a.center) arc [start angle=180,end angle=360,x radius=7.2,y radius=9] arc [start angle=180,end angle=360,x radius=7.2,y radius=9] arc [start angle=180,end angle=360,x radius=7.2,y radius=9];
  \draw (l1b.center) to (dL.center);
  \draw (v7.center) to (dL.center);
  \draw (dL.center) to (c7a.center);
  \draw (c7b.center) to (g16.center);
  \draw (dL.center) -- (1529.3,1177.3) -- (1529.3,576.7) -- (dU3.center);

  % title block
  \draw (1928,1250.7) -- (1455.7,1250.7) -- (1455.7,1460);
  \draw (1455.7,1303.3) -- (1928,1303.3);
  \draw (1455.7,1356) -- (1928,1356);
  \draw (1455.7,1408.3) -- (1928,1408.3);
  \draw (1455.7,1435) -- (1928,1435);
  \draw (1519,1356) -- (1519,1408.3);
  \draw (1866.7,1356) -- (1866.7,1408.3);
  \draw (1519,1382.7) -- (1866.7,1382.7);
  \draw (1718.7,1408.3) -- (1718.7,1460);
  \node [font=\bfseries\itshape\fontsize{38pt}{40pt}\selectfont,xscale=1.2,inner sep=0pt] (logo) at (1696,1277) {MaxStream};
  \node [style=tb,font=\fontsize{8pt}{10pt}\selectfont] (tt) at (1461,1317.7) {Title};
  \node [style=tb,font=\fontsize{15pt}{17pt}\selectfont] (tv) at (1499,1330.7) {3.3 Volt Interface Board};
  \node [style=tb] (ts) at (1461,1370) {Size};
  \node [style=big] (tc) at (1488,1394) {C};
  \node [style=tb] (te) at (1524,1370) {Engineer};
  \node [style=tb] (ta) at (1524,1396) {Approved By};
  \node [style=tb] (tr) at (1872,1370) {Rev};
  \node [style=big,anchor=west,font=\fontsize{14pt}{16pt}\selectfont] (trv) at (1872,1389) {1.1};
  \node [style=tb] (td) at (1461,1425) {Date};
  \node [style=tb,font=\ttfamily\fontsize{8pt}{10pt}\selectfont] (tdv) at (1495,1425) {6/05/02};
  \node [style=tb] (tb) at (1725,1425) {Drawn by};
  \node [style=tb,font=\fontsize{8pt}{10pt}\selectfont] (tbv) at (1793,1425) {J. Schwartz};
  \node [style=tb] (tf) at (1461,1450) {Filename};
  \node [style=tb,font=\fontsize{8pt}{10pt}\selectfont] (tfv) at (1523,1450) {3.3V\_board\_AA.SCH};
  \node [style=tb] (th) at (1725,1450) {Sheet};
  \node [style=val] (th1) at (1798,1447) {1};
  \node [style=tb] (to) at (1843,1450) {of};
  \node [style=val] (th2) at (1883,1447) {1};
\end{tikzpicture}
\end{document}
